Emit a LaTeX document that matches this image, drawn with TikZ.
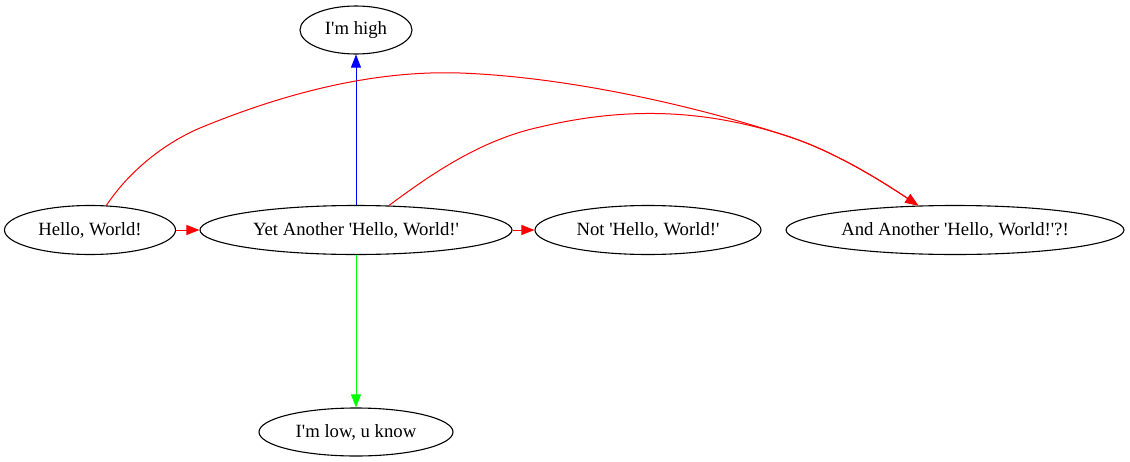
\documentclass[tikz,border=0pt]{standalone}
\usepackage{fontspec}
\setmainfont{Liberation Serif}
\usetikzlibrary{positioning,shapes,arrows.meta}

\newcommand{\q}{\textquotesingle}
\tikzset{
  gnode/.style={ellipse, draw, line width=1.1pt, minimum height=49pt, inner sep=0pt,
    font=\fontsize{18.7}{22}\selectfont},
  garrow/.style={line width=1pt, -{Triangle[length=13pt,width=10pt]}},
}

\begin{document}
\begin{tikzpicture}[x=1pt,y=-1pt]
\useasboundingbox (0,0) rectangle (1130,461);
% nodes
\node[gnode, minimum width=112pt, minimum height=48pt] (high) at (356,30) {I\q m high};
\node[gnode, minimum width=171pt] (hello) at (90,230) {Hello, World!};
\node[gnode, minimum width=312pt] (yet) at (356,230) {Yet Another \q Hello, World!\q};
\node[gnode, minimum width=226pt] (not) at (648,230) {Not \q Hello, World!\q};
\node[gnode, minimum width=338pt] (and) at (955,230) {And Another \q Hello, World!\q?!};
\node[gnode, minimum width=194pt, minimum height=48pt] (low) at (356,432) {I\q m low, u know};
% edges
\draw[garrow, red] (hello) -- (yet);
\draw[garrow, red] (yet) -- (not);
\draw[garrow, blue] (yet) -- (high);
\draw[garrow, green] (yet) -- (low);
\draw[garrow, red] (hello) .. controls (130,170) and (165,143) .. (200,128)
  .. controls (280,95) and (370,70) .. (460,73)
  .. controls (570,77) and (700,107) .. (790,137)
  .. controls (835,152) and (880,180) .. (and);
\draw[garrow, red] (yet) .. controls (430,175) and (480,140) .. (540,127)
  .. controls (620,108) and (700,107) .. (790,137)
  .. controls (835,152) and (880,180) .. (and);
\end{tikzpicture}
\end{document}
